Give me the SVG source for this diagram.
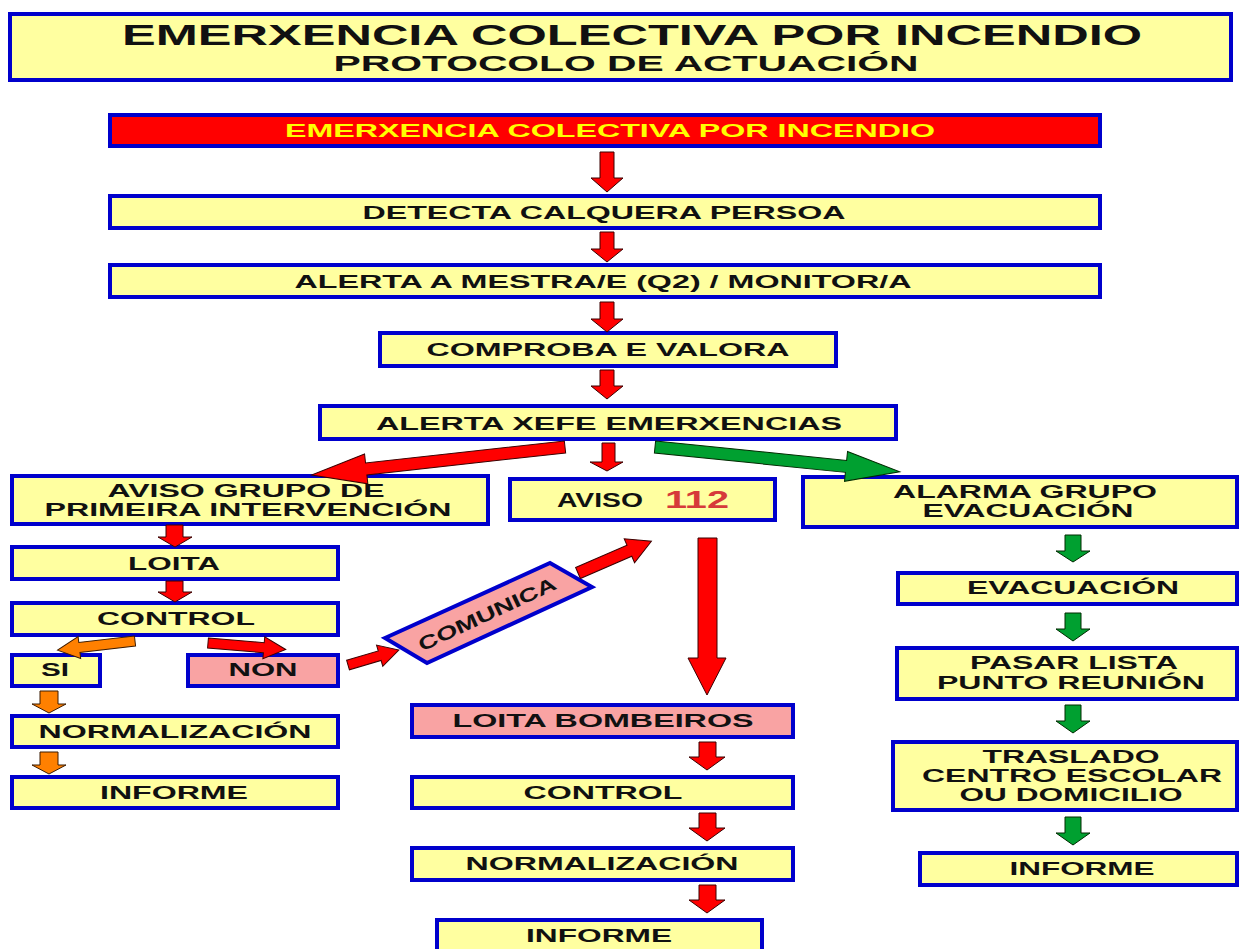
<svg xmlns="http://www.w3.org/2000/svg" width="1241" height="949" viewBox="0 0 1241 949">
<style>
.box{fill:#ffffa0;stroke:#0000cc;stroke-width:4}
.pink{fill:#f9a3a3;stroke:#0000cc;stroke-width:4}
.redbox{fill:#ff0000;stroke:#0000cc;stroke-width:4}
.t{font-family:"Liberation Sans",Arial,sans-serif;font-weight:bold;font-size:19px;fill:#111;text-anchor:middle}
.ar{fill:#ff0000;stroke:#3a0000;stroke-width:1}
.ag{fill:#00a030;stroke:#002a00;stroke-width:1}
.ao{fill:#ff8000;stroke:#3a1a00;stroke-width:1}
</style>
<rect width="1241" height="949" fill="#ffffff"/>
<g id="title">
<rect class="box" x="10" y="14" width="1221" height="66"/>
<text class="t" x="632" y="45" style="font-size:29px" textLength="1020" lengthAdjust="spacingAndGlyphs">EMERXENCIA COLECTIVA POR INCENDIO</text>
<text class="t" x="626" y="71" style="font-size:22px" textLength="585" lengthAdjust="spacingAndGlyphs">PROTOCOLO DE ACTUACIÓN</text>
</g>
<g id="n-emerxencia">
<rect class="redbox" x="110" y="115" width="990" height="31"/>
<text class="t" x="610" y="137" style="fill:#ffff00" textLength="650" lengthAdjust="spacingAndGlyphs">EMERXENCIA COLECTIVA POR INCENDIO</text>
</g>
<g id="n-detecta">
<rect class="box" x="110" y="196" width="990" height="32"/>
<text class="t" x="604" y="219" textLength="483" lengthAdjust="spacingAndGlyphs">DETECTA CALQUERA PERSOA</text>
</g>
<g id="n-alerta-mestra">
<rect class="box" x="110" y="265" width="990" height="32"/>
<text class="t" x="603" y="288" textLength="617" lengthAdjust="spacingAndGlyphs">ALERTA A MESTRA/E (Q2) / MONITOR/A</text>
</g>
<g id="n-comproba">
<rect class="box" x="380" y="333" width="456" height="33"/>
<text class="t" x="608" y="356" textLength="363" lengthAdjust="spacingAndGlyphs">COMPROBA E VALORA</text>
</g>
<g id="n-xefe">
<rect class="box" x="320" y="406" width="576" height="33"/>
<text class="t" x="609" y="430" textLength="466" lengthAdjust="spacingAndGlyphs">ALERTA XEFE EMERXENCIAS</text>
</g>
<g id="n-aviso-grupo">
<rect class="box" x="12" y="476" width="476" height="48"/>
<text class="t" x="246" y="497" textLength="277" lengthAdjust="spacingAndGlyphs">AVISO GRUPO DE</text>
<text class="t" x="248" y="516" textLength="407" lengthAdjust="spacingAndGlyphs">PRIMEIRA INTERVENCIÓN</text>
</g>
<g id="n-aviso-112">
<rect class="box" x="510" y="479" width="265" height="41"/>
<text class="t" x="600" y="507" style="font-size:20px" textLength="86" lengthAdjust="spacingAndGlyphs">AVISO</text>
<text class="t" x="697" y="508" style="font-size:23px;fill:#d63a3a" textLength="64" lengthAdjust="spacingAndGlyphs">112</text>
</g>
<g id="n-alarma-grupo">
<rect class="box" x="803" y="477" width="434" height="50"/>
<text class="t" x="1025" y="498" textLength="264" lengthAdjust="spacingAndGlyphs">ALARMA GRUPO</text>
<text class="t" x="1028" y="517" textLength="211" lengthAdjust="spacingAndGlyphs">EVACUACIÓN</text>
</g>
<g id="n-loita">
<rect class="box" x="12" y="547" width="326" height="32"/>
<text class="t" x="174" y="570" textLength="92" lengthAdjust="spacingAndGlyphs">LOITA</text>
</g>
<g id="n-control-1">
<rect class="box" x="12" y="603" width="326" height="32"/>
<text class="t" x="176" y="625" textLength="158" lengthAdjust="spacingAndGlyphs">CONTROL</text>
</g>
<g id="n-si">
<rect class="box" x="12" y="655" width="88" height="31"/>
<text class="t" x="55" y="676" textLength="28" lengthAdjust="spacingAndGlyphs">SI</text>
</g>
<g id="n-non">
<rect class="pink" x="188" y="655" width="150" height="31"/>
<text class="t" x="263" y="676" textLength="69" lengthAdjust="spacingAndGlyphs">NON</text>
</g>
<g id="n-normalizacion-1">
<rect class="box" x="12" y="716" width="326" height="31"/>
<text class="t" x="175" y="738" textLength="273" lengthAdjust="spacingAndGlyphs">NORMALIZACIÓN</text>
</g>
<g id="n-informe-1">
<rect class="box" x="12" y="777" width="326" height="31"/>
<text class="t" x="174" y="799" textLength="148" lengthAdjust="spacingAndGlyphs">INFORME</text>
</g>
<g id="n-comunica">
<polygon class="pink" points="385,638 550,563 592,587 427,663"/>
<text class="t" transform="translate(490,620) rotate(-25)" textLength="150" lengthAdjust="spacingAndGlyphs">COMUNICA</text>
</g>
<g id="n-loita-bombeiros">
<rect class="pink" x="412" y="705" width="381" height="32"/>
<text class="t" x="603" y="727" textLength="301" lengthAdjust="spacingAndGlyphs">LOITA BOMBEIROS</text>
</g>
<g id="n-control-2">
<rect class="box" x="412" y="777" width="381" height="31"/>
<text class="t" x="603" y="799" textLength="159" lengthAdjust="spacingAndGlyphs">CONTROL</text>
</g>
<g id="n-normalizacion-2">
<rect class="box" x="412" y="848" width="381" height="32"/>
<text class="t" x="602" y="870" textLength="273" lengthAdjust="spacingAndGlyphs">NORMALIZACIÓN</text>
</g>
<g id="n-informe-2">
<rect class="box" x="437" y="920" width="325" height="34"/>
<text class="t" x="599" y="942" textLength="146" lengthAdjust="spacingAndGlyphs">INFORME</text>
</g>
<g id="n-evacuacion">
<rect class="box" x="898" y="573" width="339" height="31"/>
<text class="t" x="1073" y="594" textLength="212" lengthAdjust="spacingAndGlyphs">EVACUACIÓN</text>
</g>
<g id="n-pasar-lista">
<rect class="box" x="897" y="648" width="340" height="51"/>
<text class="t" x="1074" y="669" textLength="208" lengthAdjust="spacingAndGlyphs">PASAR LISTA</text>
<text class="t" x="1071" y="689" textLength="268" lengthAdjust="spacingAndGlyphs">PUNTO REUNIÓN</text>
</g>
<g id="n-traslado">
<rect class="box" x="893" y="742" width="344" height="68"/>
<text class="t" x="1071" y="763" textLength="177" lengthAdjust="spacingAndGlyphs">TRASLADO</text>
<text class="t" x="1072" y="782" textLength="300" lengthAdjust="spacingAndGlyphs">CENTRO ESCOLAR</text>
<text class="t" x="1071" y="801" textLength="223" lengthAdjust="spacingAndGlyphs">OU DOMICILIO</text>
</g>
<g id="n-informe-3">
<rect class="box" x="920" y="853" width="317" height="32"/>
<text class="t" x="1082" y="875" textLength="145" lengthAdjust="spacingAndGlyphs">INFORME</text>
</g>
<g id="connectors">
<polygon class="ar" points="600,152 614,152 614,178 623,178 607,192 591,178 600,178"/>
<polygon class="ar" points="600,232 614,232 614,249 623,249 607,262 591,249 600,249"/>
<polygon class="ar" points="600,302 614,302 614,319 623,319 607,332 591,319 600,319"/>
<polygon class="ar" points="600,370 614,370 614,386 623,386 607,399 591,386 600,386"/>
<polygon class="ar" points="602,443 615,443 615,462 623,462 607,471 590,462 602,462"/>
<polygon class="ar" transform="translate(565,447) rotate(173.7)" points="0,-6 200,-6 200,-15 255,0 200,15 200,6 0,6"/>
<polygon class="ag" transform="translate(655,447) rotate(5.8)" points="0,-6 192,-6 192,-15 246,0 192,15 192,6 0,6"/>
<polygon class="ar" points="166,525 183,525 183,537 192,537 175,547 158,537 166,537"/>
<polygon class="ar" points="166,581 183,581 183,592 192,592 175,602 158,592 166,592"/>
<polygon class="ao" transform="translate(135,641) rotate(173.3)" points="0,-5 56,-5 56,-11 78,0 56,11 56,5 0,5"/>
<polygon class="ar" transform="translate(208,643) rotate(4.8)" points="0,-5 56,-5 56,-11 78,0 56,11 56,5 0,5"/>
<polygon class="ao" points="40,691 58,691 58,704 66,704 49,713 32,704 40,704"/>
<polygon class="ao" points="40,752 58,752 58,765 66,765 49,774 32,765 40,765"/>
<polygon class="ar" transform="translate(348,665) rotate(-16.4)" points="0,-5 33,-5 33,-11 53,0 33,11 33,5 0,5"/>
<polygon class="ar" transform="translate(578,573) rotate(-23.4)" points="0,-6 56,-6 56,-13 80,0 56,13 56,6 0,6"/>
<polygon class="ar" points="698,538 717,538 717,658 726,658 707,695 688,658 698,658"/>
<polygon class="ar" points="699,742 716,742 716,757 725,757 707,770 689,757 699,757"/>
<polygon class="ar" points="699,813 716,813 716,828 725,828 707,841 689,828 699,828"/>
<polygon class="ar" points="699,885 716,885 716,900 725,900 707,913 689,900 699,900"/>
<polygon class="ag" points="1065,535 1081,535 1081,551 1090,551 1073,562 1056,551 1065,551"/>
<polygon class="ag" points="1065,613 1081,613 1081,629 1090,629 1073,641 1056,629 1065,629"/>
<polygon class="ag" points="1065,705 1081,705 1081,721 1090,721 1073,733 1056,721 1065,721"/>
<polygon class="ag" points="1065,817 1081,817 1081,833 1090,833 1073,845 1056,833 1065,833"/>
</g>
</svg>
